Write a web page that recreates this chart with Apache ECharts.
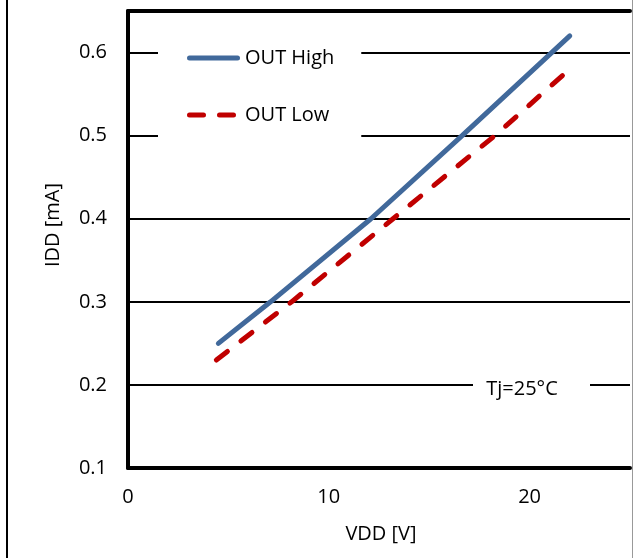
<!DOCTYPE html>
<html>
<head>
<meta charset="utf-8">
<script src="https://cdn.jsdelivr.net/npm/echarts@6/dist/echarts.min.js"></script>
<style>html,body{margin:0;padding:0;background:#fff}#c{width:633px;height:558px}</style>
</head>
<body>
<div id="c"></div>
<script>
// Data
const highVdd = [4.5, 7.1, 12.1, 16.64, 22];
const highIdd = [0.25, 0.30, 0.40, 0.50, 0.62];
const lowVdd = [4.4, 8.15, 13.2, 18.27, 22];
const lowIdd = [0.23, 0.30, 0.40, 0.50, 0.58];
const xTicks = [0, 10, 20];
const yTicks = [0.1, 0.2, 0.3, 0.4, 0.5, 0.6];
const seriesNames = ['OUT High', 'OUT Low'];

const FONT = 'Open Sans';
const chart = echarts.init(document.getElementById('c'));
const pair = (xs, ys) => xs.map((x, i) => [x, ys[i]]);

chart.setOption({
  animation: false,
  backgroundColor: '#fff',
  textStyle: { fontFamily: FONT },
  grid: { left: 128, top: 11, width: 506, height: 457, show: false },
  legend: {
    orient: 'vertical',
    left: 158, top: 30,
    width: 202,
    padding: [18, 27, 18, 29],
    backgroundColor: '#fff',
    itemWidth: 53, itemHeight: 5, itemGap: 37,
    textStyle: { fontFamily: FONT, fontSize: 20, color: '#000' },
    data: [
      { name: seriesNames[0], icon: 'path://M2.5,0 H50.5 A2.5,2.5 0 0 1 50.5,5 H2.5 A2.5,2.5 0 0 1 2.5,0 Z' },
      { name: seriesNames[1], icon: 'path://M2.5,0 H16.5 A2.5,2.5 0 0 1 16.5,5 H2.5 A2.5,2.5 0 0 1 2.5,0 Z M32.5,0 H46.5 A2.5,2.5 0 0 1 46.5,5 H32.5 A2.5,2.5 0 0 1 32.5,0 Z M53,0 V5 Z' }
    ]
  },
  xAxis: [{
    type: 'value', min: 0, max: 25, interval: 10,
    axisLine: { show: true, lineStyle: { color: '#000', width: 4 } },
    axisTick: { show: false },
    splitLine: { show: false },
    axisLabel: {
      margin: 19, fontSize: 20, color: '#000', fontFamily: FONT,
      formatter: v => xTicks.some(t => Math.abs(t - v) < 1e-6) ? String(v) : ''
    }
  }, {
    type: 'value', position: 'top', min: 0, max: 25,
    axisLine: { show: true, lineStyle: { color: '#000', width: 4 } },
    axisTick: { show: false }, axisLabel: { show: false }, splitLine: { show: false }
  }],
  yAxis: {
    type: 'value', min: 0.1, max: 0.65, interval: 0.1,
    axisLine: { show: true, lineStyle: { color: '#000', width: 4 } },
    axisTick: { show: false },
    splitLine: { show: true, lineStyle: { color: '#000', width: 2 } },
    axisLabel: {
      margin: 21, fontSize: 20, color: '#000', fontFamily: FONT,
      formatter: v => yTicks.some(t => Math.abs(t - v) < 1e-6) ? v.toFixed(1) : ''
    }
  },
  series: [{
    name: seriesNames[0], type: 'line', xAxisIndex: 0,
    data: pair(highVdd, highIdd),
    showSymbol: false, symbol: 'none',
    itemStyle: { color: '#41699B' },
    lineStyle: { color: '#41699B', width: 5, cap: 'round' }
  }, {
    name: seriesNames[1], type: 'line', xAxisIndex: 0,
    data: pair(lowVdd, lowIdd),
    showSymbol: false, symbol: 'none',
    itemStyle: { color: '#C00000' },
    lineStyle: { color: '#C00000', width: 5, type: [14, 17], cap: 'round' }
  }],
  graphic: [
    { type: 'line', z: 100, shape: { x1: 7, y1: 0, x2: 7, y2: 558 }, style: { stroke: '#000', lineWidth: 2 } },
    { type: 'line', z: 100, shape: { x1: 632.5, y1: 0, x2: 632.5, y2: 558 }, style: { stroke: '#999', lineWidth: 1 } },
    { type: 'rect', z: 50, shape: { x: 473, y: 375, width: 117, height: 22 }, style: { fill: '#fff' } },
    { type: 'text', z: 60, x: 522, y: 389, style: { text: 'Tj=25°C', font: '20px "Open Sans"', fill: '#000', align: 'center', verticalAlign: 'middle' } },
    { type: 'text', z: 60, x: 381, y: 534, style: { text: 'VDD [V]', font: '20px "Open Sans"', fill: '#000', align: 'center', verticalAlign: 'middle' } },
    { type: 'text', z: 60, x: 53, y: 225, rotation: Math.PI / 2, style: { text: 'IDD [mA]', font: '20px "Open Sans"', fill: '#000', align: 'center', verticalAlign: 'middle' } }
  ]
});
</script>
</body>
</html>
